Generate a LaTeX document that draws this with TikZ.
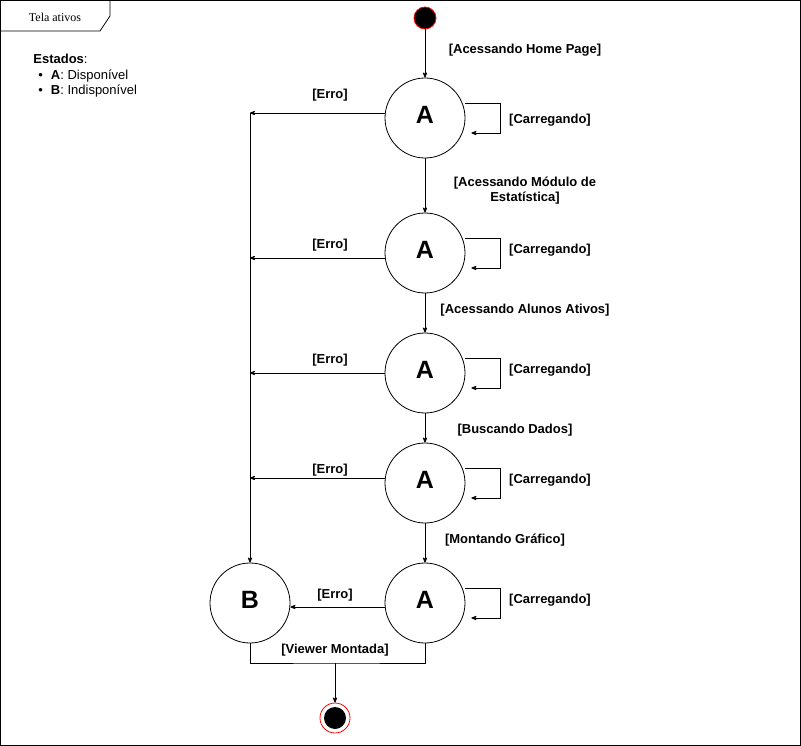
\documentclass[tikz,border=0pt]{standalone}
\usepackage{fontspec}
\setmainfont{Liberation Sans}
\newfontfamily\framefont{Liberation Serif}
\usetikzlibrary{arrows,calc,positioning}

\tikzset{
    state/.style={draw, circle, minimum size=80pt, inner sep=0pt, font=\fontsize{25}{28}\selectfont\bfseries},
    guard/.style={font=\fontsize{13}{15}\selectfont\bfseries, align=center, inner sep=1pt},
    every path/.style={line width=0.8pt},
    >=stealth'
}

\begin{document}
\begin{tikzpicture}[x=1pt, y=-1pt]
                        \useasboundingbox (0,0) rectangle (801,746);
                        \draw (0.5,0.5) rectangle (800.5,745.5);
                        \draw (0.5,31) -- (100,31) -- (110,16) -- (110,0.5);
                        \node[font=\framefont\fontsize{12}{14}\selectfont] (title) at (55,17) {Tela ativos};

                        % legenda
                        \node[anchor=west, font=\fontsize{13}{15}\selectfont, inner sep=0pt] (leg) at (33,59) {\textbf{Estados}:};
                        \node[anchor=west, font=\fontsize{13}{15}\selectfont, inner sep=0pt] (legA) at (38,76) {\textbullet\hspace{8pt}\textbf{A}: Disponível};
                        \node[anchor=west, font=\fontsize{13}{15}\selectfont, inner sep=0pt] (legB) at (38,91) {\textbullet\hspace{8pt}\textbf{B}: Indisponível};

                        % estados
                        \node[circle, fill=black, draw=red, minimum size=22pt, inner sep=0pt] (ini) at (425,18) {};
                        \node[state] (a1) at (425,118) {\raisebox{7pt}{A}};
                        \node[state] (a2) at (425,253) {\raisebox{7pt}{A}};
                        \node[state] (a3) at (425,373) {\raisebox{7pt}{A}};
                        \node[state] (a4) at (425,483) {\raisebox{7pt}{A}};
                        \node[state] (a5) at (425,603) {\raisebox{7pt}{A}};
                        \node[state] (b) at (250,603) {\raisebox{7pt}{B}};
                        \node[circle, draw=red, minimum size=30pt, inner sep=0pt] (fim) at (335,718) {};
                        \node[circle, fill=black, minimum size=22pt, inner sep=0pt] (fimin) at (335,718) {};

                        % pontos auxiliares
                        \coordinate (e1) at (250,113);
                        \coordinate (e2) at (250,258);
                        \coordinate (e3) at (250,373);
                        \coordinate (e4) at (250,478);
                        \coordinate (j) at (335,663);

                        % transicoes
                        \draw
                        (ini) edge[->] (a1)
                        (a1) edge[->] (a2)
                        (a2) edge[->] (a3)
                        (a3) edge[->] (a4)
                        (a4) edge[->] (a5)
                        (a1.west |- e1) edge[->] (e1)
                        (a2.west |- e2) edge[->] (e2)
                        (a3.west |- e3) edge[->] (e3)
                        (a4.west |- e4) edge[->] (e4)
                        (e1) edge[->] (b)
                        ($(a5.west)+(0,4)$) edge[->] ($(b.east)+(0,4)$)
                        (j) edge[->] (fim);
                        \draw (b.south) |- (j) -| (a5.south);

                        % carregando
                        \foreach \s/\y in {a1/120, a2/250, a3/370, a4/480, a5/600} {
                            \draw[->] ($(\s.east)+(0,-15)$) -| ($(\s.east)+(35,15)$) -- ($(\s.east)+(6,15)$);
                            \node[guard] at (550,\y) {[Carregando]};
                        }

                        % rotulos
                        \node[guard] (l1) at (525,50) {[Acessando Home Page]};
                        \node[guard] (l2) at (525,191) {[Acessando Módulo de\\Estatística]};
                        \node[guard] (l3) at (525,310) {[Acessando Alunos Ativos]};
                        \node[guard] (l4) at (515,430) {[Buscando Dados]};
                        \node[guard] (l5) at (505,540) {[Montando Gráfico]};
                        \node[guard] (r1) at (330,95) {[Erro]};
                        \node[guard] (r2) at (330,245) {[Erro]};
                        \node[guard] (r3) at (330,360) {[Erro]};
                        \node[guard] (r4) at (330,470) {[Erro]};
                        \node[guard] (r5) at (335,595) {[Erro]};
                        \node[guard] (vm) at (335,650) {[Viewer Montada]};
                    \end{tikzpicture}
\end{document}
